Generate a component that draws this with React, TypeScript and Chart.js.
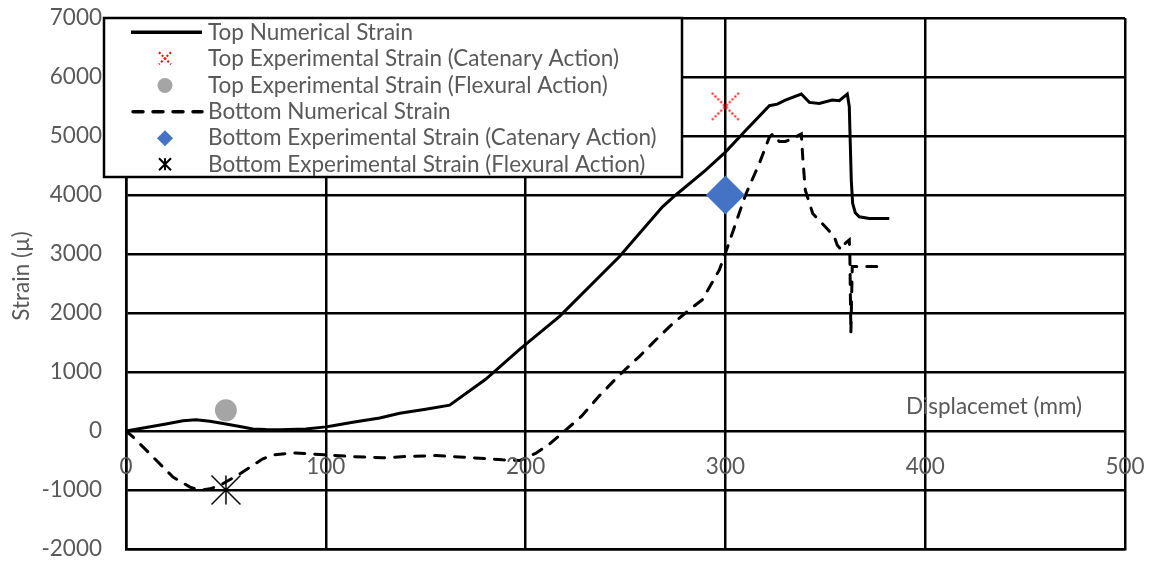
import React, { useEffect, useRef } from 'react';
import { Chart, registerables } from 'chart.js';

Chart.register(...registerables);

// ---------- data ----------
const topNumX = [0, 10, 20, 28.5, 35, 42, 50, 57, 63.5, 70, 77, 90, 100, 103.5, 113.5, 127, 137, 150, 162, 180, 197, 217, 247, 268.5, 275, 290, 300, 310, 322, 326, 330, 338, 342, 347, 353.5, 357, 361, 362, 363, 363.7, 365, 367, 372, 382];
const topNumY = [0, 60, 120, 173, 190, 165, 118, 75, 34, 25, 22, 34, 70, 90, 150, 219, 300, 370, 438, 877, 1383, 1944, 2956, 3800, 3996, 4418, 4727, 5090, 5514, 5540, 5609, 5711, 5570, 5553, 5609, 5598, 5711, 5500, 4250, 3856, 3700, 3631, 3600, 3600];

const botNumX = [0, 3.5, 13.5, 23.5, 32, 37, 42, 47, 57, 68.5, 73.5, 83.5, 100, 113.5, 128.5, 140, 155, 172, 188.5, 197, 205, 212, 219.5, 228, 237, 247, 257, 267, 273, 282, 288.5, 297, 300, 303.5, 310, 317, 322, 323.7, 327, 330, 335, 338, 338.7, 340, 343.7, 350, 354.5, 356, 358, 360, 362, 362.3, 362.8, 363.5, 376];
const botNumY = [0, -100, -440, -780, -950, -1006, -980, -922, -725, -472, -405, -371, -405, -433, -455, -433, -416, -450, -489, -500, -380, -220, 0, 250, 600, 950, 1266, 1605, 1800, 2057, 2226, 2732, 3013, 3356, 3996, 4536, 4980, 5036, 4907, 4907, 4980, 5036, 4640, 4080, 3687, 3462, 3293, 3150, 3069, 3181, 3238, 2956, 1658, 2790, 2790];

const topExpCatenaryX = [300];
const topExpCatenaryY = [5500];
const topExpFlexuralX = [50];
const topExpFlexuralY = [350];
const botExpCatenaryX = [300];
const botExpCatenaryY = [4000];
const botExpFlexuralX = [50];
const botExpFlexuralY = [-1000];

const seriesNames = [
  'Top Numerical Strain',
  'Top Experimental Strain (Catenary Action)',
  'Top Experimental Strain (Flexural Action)',
  'Bottom Numerical Strain',
  'Bottom Experimental Strain (Catenary Action)',
  'Bottom Experimental Strain (Flexural Action)',
];

const xTicks = [0, 100, 200, 300, 400, 500];
const yTicks = [-2000, -1000, 0, 1000, 2000, 3000, 4000, 5000, 6000, 7000];
const xTitle = 'Displacemet (mm)';
const yTitle = 'Strain (µ)';

const FONT = 'Lato, "Liberation Sans", sans-serif';
const TEXT = '#595959';
const FS = 22.5;

const pts = (xs: number[], ys: number[]) => xs.map((x, i) => ({ x, y: ys[i] }));

function drawRedX(ctx: CanvasRenderingContext2D, cx: number, cy: number, h: number) {
  ctx.save();
  ctx.strokeStyle = '#FF0000';
  ctx.lineWidth = 2;
  ctx.setLineDash([2, 2]);
  ctx.beginPath();
  ctx.moveTo(cx - h, cy - h);
  ctx.lineTo(cx + h, cy + h);
  ctx.moveTo(cx + h, cy - h);
  ctx.lineTo(cx - h, cy + h);
  ctx.stroke();
  ctx.restore();
}

function drawAsterisk(ctx: CanvasRenderingContext2D, cx: number, cy: number, h: number, lw: number) {
  ctx.save();
  ctx.strokeStyle = '#000';
  ctx.lineWidth = lw;
  ctx.beginPath();
  ctx.moveTo(cx - h, cy - h);
  ctx.lineTo(cx + h, cy + h);
  ctx.moveTo(cx + h, cy - h);
  ctx.lineTo(cx - h, cy + h);
  ctx.moveTo(cx, cy - h);
  ctx.lineTo(cx, cy + h);
  ctx.stroke();
  ctx.restore();
}

function makeImg(size: number, fn: (c: CanvasRenderingContext2D, m: number) => void) {
  const cv = document.createElement('canvas');
  cv.width = size;
  cv.height = size;
  const c = cv.getContext('2d')!;
  fn(c, size / 2);
  return cv;
}

export default function App() {
  const ref = useRef<HTMLCanvasElement | null>(null);

  useEffect(() => {
    if (!ref.current) return;
    const redX = makeImg(32, (c, m) => drawRedX(c, m, m, 13.5));
    const star = makeImg(32, (c, m) => drawAsterisk(c, m, m, 14.5, 1.5));

    const overlay = {
      id: 'overlay',
      afterDraw(chart: any) {
        const ctx = chart.ctx as CanvasRenderingContext2D;
        const { left, right, top } = chart.chartArea;
        const xs = chart.scales.x;
        const y0 = chart.scales.y.getPixelForValue(0);
        ctx.save();
        ctx.font = `${FS}px ${FONT}`;
        ctx.fillStyle = TEXT;
        ctx.textAlign = 'center';
        ctx.textBaseline = 'middle';
        // x tick labels sit under the zero line
        xTicks.forEach(v => ctx.fillText(String(v), xs.getPixelForValue(v), y0 + 36));
        ctx.fillText(xTitle, right - 131, y0 - 24);
        ctx.save();
        ctx.translate(22, 276);
        ctx.rotate(-Math.PI / 2);
        ctx.fillText(yTitle, 0, 0);
        ctx.restore();

        // legend
        const bx = left - 22, by = top, bw = 578, bh = 159;
        ctx.fillStyle = '#fff';
        ctx.fillRect(bx, by, bw, bh);
        ctx.strokeStyle = '#000';
        ctx.lineWidth = 2.5;
        ctx.strokeRect(bx, by, bw, bh);
        const rows = [32.3, 58.3, 85.5, 111.8, 138.2, 164.3].map(v => v - 18 + top);
        const sx = 165;
        ctx.lineWidth = 3.5;
        ctx.beginPath();
        ctx.moveTo(131, rows[0]);
        ctx.lineTo(202, rows[0]);
        ctx.stroke();
        drawRedX(ctx, sx, rows[1], 6);
        ctx.fillStyle = '#A5A5A5';
        ctx.beginPath();
        ctx.arc(sx, rows[2], 7.5, 0, Math.PI * 2);
        ctx.fill();
        ctx.save();
        ctx.lineWidth = 3.5;
        ctx.lineCap = 'round';
        ctx.setLineDash([10, 10]);
        ctx.beginPath();
        ctx.moveTo(133, rows[3]);
        ctx.lineTo(202, rows[3]);
        ctx.stroke();
        ctx.restore();
        ctx.fillStyle = '#4472C4';
        ctx.beginPath();
        ctx.moveTo(sx - 8, rows[4]);
        ctx.lineTo(sx, rows[4] - 8);
        ctx.lineTo(sx + 8, rows[4]);
        ctx.lineTo(sx, rows[4] + 8);
        ctx.closePath();
        ctx.fill();
        drawAsterisk(ctx, sx, rows[5], 6, 2);

        ctx.fillStyle = TEXT;
        ctx.font = `${FS}px ${FONT}`;
        ctx.textAlign = 'left';
        ctx.textBaseline = 'middle';
        seriesNames.forEach((n, i) => ctx.fillText(n, 208, rows[i]));
        ctx.restore();
      },
    };

    const chart = new Chart(ref.current, {
      type: 'scatter',
      data: {
        datasets: [
          {
            label: seriesNames[0],
            data: pts(topNumX, topNumY),
            showLine: true,
            borderColor: '#000',
            borderWidth: 3,
            pointRadius: 0,
            tension: 0,
            order: 5,
          },
          {
            label: seriesNames[1],
            data: pts(topExpCatenaryX, topExpCatenaryY),
            pointStyle: redX as any,
            pointRadius: 14,
            order: 1,
          },
          {
            label: seriesNames[2],
            data: pts(topExpFlexuralX, topExpFlexuralY),
            pointStyle: 'circle',
            pointRadius: 11,
            backgroundColor: '#A5A5A5',
            borderColor: '#A5A5A5',
            borderWidth: 0,
            order: 1,
          },
          {
            label: seriesNames[3],
            data: pts(botNumX, botNumY),
            showLine: true,
            borderColor: '#000',
            borderWidth: 3,
            borderDash: [10, 10],
            borderCapStyle: 'round',
            pointRadius: 0,
            tension: 0,
            order: 5,
          },
          {
            label: seriesNames[4],
            data: pts(botExpCatenaryX, botExpCatenaryY),
            pointStyle: 'rectRot',
            pointRadius: 19.5,
            backgroundColor: '#4472C4',
            borderColor: '#4472C4',
            borderWidth: 0,
            order: 1,
          },
          {
            label: seriesNames[5],
            data: pts(botExpFlexuralX, botExpFlexuralY),
            pointStyle: star as any,
            pointRadius: 14,
            order: 1,
          },
        ],
      },
      options: {
        responsive: false,
        animation: false,
        devicePixelRatio: 1,
        layout: { autoPadding: false, padding: { left: 0, right: 26, top: 18, bottom: 14 } },
        plugins: { legend: { display: false }, tooltip: { enabled: false } },
        scales: {
          x: {
            type: 'linear',
            position: 'bottom',
            min: 0,
            max: 500,
            afterBuildTicks: (s: any) => { s.ticks = xTicks.map(v => ({ value: v })); },
            afterFit: (s: any) => { s.height = 0; s.paddingLeft = 0; s.paddingRight = 0; },
            grid: { color: '#000', lineWidth: 2.5, drawTicks: false },
            border: { color: '#000', width: 2.5 },
            ticks: { display: false },
          },
          y: {
            type: 'linear',
            min: -2000,
            max: 7000,
            afterBuildTicks: (s: any) => { s.ticks = yTicks.map(v => ({ value: v })); },
            afterFit: (s: any) => { s.width = 126; s.paddingTop = 0; s.paddingBottom = 0; },
            grid: { color: '#000', lineWidth: 2.5, drawTicks: false },
            border: { color: '#000', width: 2.5 },
            ticks: {
              color: TEXT,
              font: { family: FONT, size: FS },
              padding: 24,
              callback: (v: any) => String(v),
            },
          },
        },
      },
      plugins: [overlay],
    } as any);

    return () => chart.destroy();
  }, []);

  return (
    <div style={{ position: 'fixed', left: 0, top: 0, width: 1151, height: 563, background: '#fff' }}>
      <canvas ref={ref} width={1151} height={563} />
    </div>
  );
}
